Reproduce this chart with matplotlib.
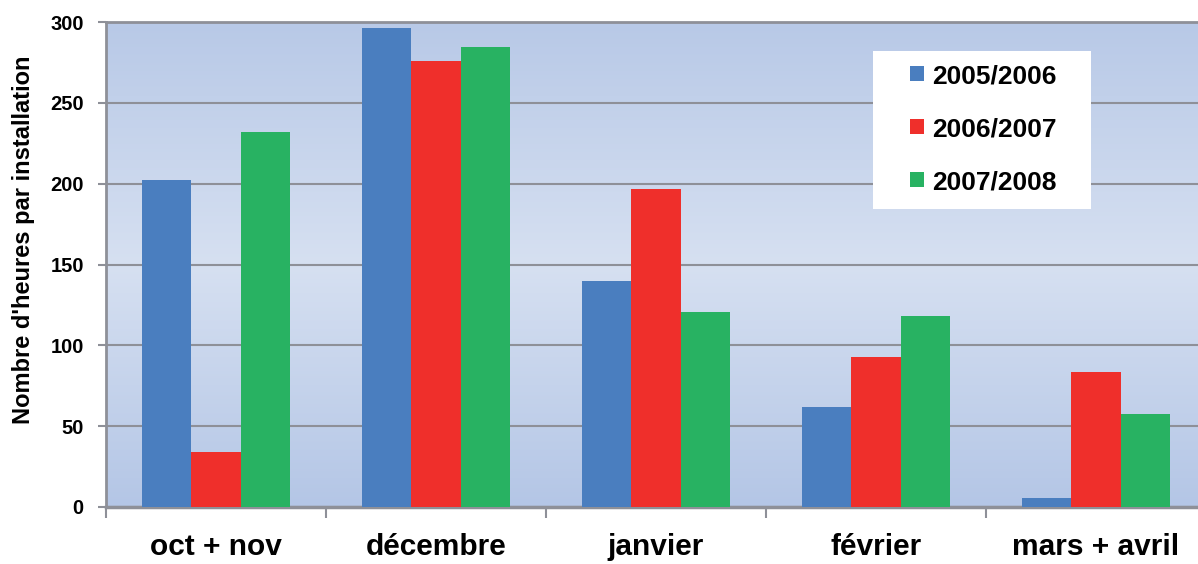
import numpy as np
import matplotlib
matplotlib.use("Agg")
import matplotlib.pyplot as plt
from matplotlib.colors import LinearSegmentedColormap
from matplotlib.patches import Rectangle

plt.rcParams['font.family'] = ['Liberation Sans', 'DejaVu Sans']
plt.rcParams['font.weight'] = 'bold'

# data
mois = ["oct + nov", "décembre", "janvier", "février", "mars + avril"]
saisons = ["2005/2006", "2006/2007", "2007/2008"]
h_2005 = [202, 296, 140, 62, 5.5]
h_2006 = [34, 276, 197, 93, 83.5]
h_2007 = [232, 284.5, 120.5, 118, 57.5]
couleurs = ["#4a7ebf", "#ef2f2b", "#28b262"]

W, H = 1198, 564
fig = plt.figure(figsize=(W / 100, H / 100), dpi=100)
ax = fig.add_axes([106 / W, 57 / H, 1100 / W, 485 / H])

# background gradient (blue - light - blue)
cmap = LinearSegmentedColormap.from_list("fond", ["#b4c6e6", "#d6e0f1", "#b8c9e7"])
grad = np.linspace(0, 1, 256).reshape(-1, 1)
ax.imshow(grad, extent=[-0.5, 4.5, 0, 300], aspect='auto', cmap=cmap,
          origin='lower', zorder=0)

x = np.arange(len(mois))
w = 0.223
for i, (vals, c, lab) in enumerate(zip([h_2005, h_2006, h_2007], couleurs, saisons)):
    ax.bar(x + (i - 1) * w, vals, w, color=c, label=lab, zorder=3)

ax.set_xlim(-0.5, 4.5)
ax.set_ylim(0, 300)
ax.set_yticks(np.arange(0, 301, 50))
ax.yaxis.grid(True, color="#8e9098", linewidth=1.5, zorder=1)
ax.set_axisbelow(True)

ax.set_xticks(x)
ax.set_xticklabels(mois, fontsize=21.5, fontweight='bold')
ax.set_xticks(np.arange(-0.5, 5, 1), minor=True)
ax.tick_params(axis='x', which='major', length=0, pad=19)
ax.tick_params(axis='x', which='minor', length=8, width=1.5, color="#8e9098")
ax.tick_params(axis='y', length=6, width=1.5, color="#8e9098", pad=10, labelsize=14.5)
for t in ax.get_yticklabels():
    t.set_fontweight('bold')

for s in ['left', 'bottom', 'top']:
    ax.spines[s].set_color("#8e9098")
    ax.spines[s].set_linewidth(2)
ax.spines['bottom'].set_linewidth(2.5)
ax.spines['right'].set_visible(False)

ax.set_ylabel("Nombre d'heures par installation", fontsize=17, fontweight='bold')
ax.yaxis.set_label_coords(-71 / 1100, 0.55)

# legend on a white box
ax.add_patch(Rectangle((873 / W, 1 - 209 / H), 218 / W, 158 / H, transform=fig.transFigure,
                       facecolor='white', edgecolor='none', zorder=4, clip_on=False))
leg = ax.legend(loc='upper left', bbox_to_anchor=(910 / W, 1 - 64 / H),
                bbox_transform=fig.transFigure, frameon=False, borderpad=0,
                borderaxespad=0, prop={'weight': 'bold', 'size': 19},
                handlelength=0.53, handleheight=0.53, handletextpad=0.3,
                labelspacing=1.1)
leg.set_zorder(5)

fig.savefig("out.png", dpi=100)
